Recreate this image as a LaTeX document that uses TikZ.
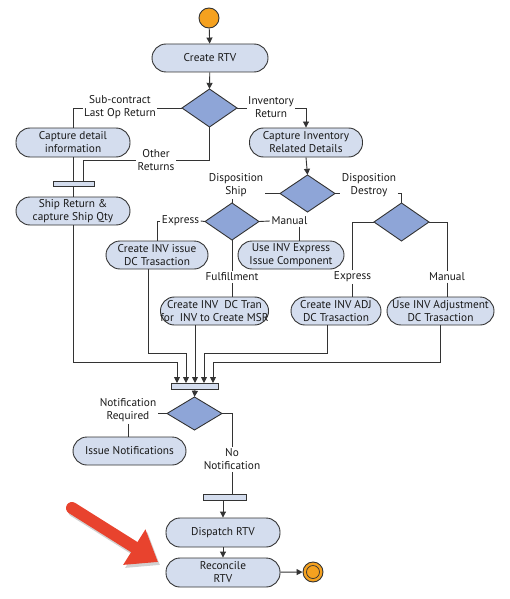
\documentclass[tikz,border=0pt]{standalone}
\usepackage{fontspec}
\setmainfont{PT Sans}
\usetikzlibrary{arrows.meta,calc}
\definecolor{boxfill}{HTML}{D4DDEE}
\definecolor{diafill}{HTML}{8EA5D7}
\definecolor{edge}{HTML}{333333}
\definecolor{startor}{HTML}{F5A11F}
\definecolor{redarr}{HTML}{E8432E}
\tikzset{
  every node/.style={font=\fontsize{11.3}{13}\selectfont, text=black!90},
  act/.style={draw=edge, fill=boxfill, line width=0.9pt, rounded corners=14pt, align=center, inner sep=0pt},
  dia/.style={draw=edge, fill=diafill, line width=0.9pt, inner sep=0pt},
  barbox/.style={draw=edge, fill=boxfill, line width=0.9pt, inner sep=0pt},
  lbl/.style={align=center, inner sep=1.5pt},
  conn/.style={draw=edge, line width=0.9pt},
  arr/.style={conn, -{Triangle[length=6pt,width=6pt]}},
}
\begin{document}
\begin{tikzpicture}[x=1pt,y=-1pt]
\useasboundingbox (0,0) rectangle (510,599);
% start
\node[circle, draw=edge, fill=startor, line width=0.9pt, minimum size=20pt, inner sep=0pt] (start) at (209,18) {};
\node[act, minimum width=116pt, minimum height=28pt] (rtv) at (210,58) {Create RTV};
% diamonds
\coordinate (c1) at (209.5,108);
\coordinate (c2) at (307.5,193.5);
\coordinate (c3) at (232,221.5);
\coordinate (c4) at (401.5,222);
\coordinate (c5) at (194.5,413.5);
\path[dia] (182,108) -- (209.5,89) -- (237,108) -- (209.5,127) -- cycle;
\node[inner sep=0pt, minimum width=55pt, minimum height=38pt] (d1) at (c1) {};
\path[dia] (280,193.5) -- (307.5,175) -- (335,193.5) -- (307.5,212) -- cycle;
\node[inner sep=0pt, minimum width=55pt, minimum height=37pt] (d2) at (c2) {};
\path[dia] (205,221.5) -- (232,203) -- (259,221.5) -- (232,240) -- cycle;
\node[inner sep=0pt, minimum width=54pt, minimum height=37pt] (d3) at (c3) {};
\path[dia] (374,222) -- (401.5,203) -- (429,222) -- (401.5,241) -- cycle;
\node[inner sep=0pt, minimum width=55pt, minimum height=38pt] (d4) at (c4) {};
\path[dia] (167,413.5) -- (194.5,397) -- (222,413.5) -- (194.5,430) -- cycle;
\node[inner sep=0pt, minimum width=55pt, minimum height=33pt] (d5) at (c5) {};
% activities
\node[act, minimum width=114pt, minimum height=29pt] (cdi) at (73,142.5) {Capture detail\\information};
\node[act, minimum width=113pt, minimum height=29pt] (cir) at (306,142.5) {Capture Inventory\\Related Details};
\node[barbox, minimum width=41pt, minimum height=5pt] (bar1) at (73.5,183.5) {};
\node[act, minimum width=114pt, minimum height=28pt] (ship) at (73,211) {Ship Return \&\\capture Ship Qty};
\node[act, minimum width=102pt, minimum height=28pt] (inviss) at (157,255) {Create INV issue\\DC Trasaction};
\node[act, minimum width=106pt, minimum height=28pt] (useexp) at (291,255) {Use INV Express\\Issue Component};
\node[act, minimum width=107pt, minimum height=28pt] (dctran) at (214.5,311) {Create INV\ \ DC Tran\\for\ \ INV to Create MSR};
\node[act, minimum width=90pt, minimum height=28pt] (adj) at (336,311) {Create INV ADJ\\DC Trasaction};
\node[act, minimum width=107pt, minimum height=28pt] (useadj) at (440.5,311) {Use INV Adjustment\\DC Trasaction};
\node[barbox, minimum width=47pt, minimum height=6pt] (bar2) at (195,386) {};
\node[act, minimum width=113pt, minimum height=28pt] (issue) at (129.5,451) {Issue Notifications};
\node[barbox, minimum width=43pt, minimum height=6pt] (bar3) at (224.5,497) {};
\node[act, minimum width=114pt, minimum height=29pt] (dispatch) at (223,532.5) {Dispatch RTV};
\node[act, minimum width=114pt, minimum height=29pt] (reconcile) at (223,572.5) {Reconcile\\RTV};
\node[circle, draw=edge, fill=startor, line width=0.9pt, minimum size=20pt, inner sep=0pt] (endo) at (313,572) {};
\node[circle, draw=edge, fill=startor, line width=0.7pt, minimum size=13pt, inner sep=0pt] (endi) at (313,572) {};
% labels
\node[lbl] (lsub) at (120,107.5) {Sub-contract\\Last Op Return};
\node[lbl] (linv) at (271,107.5) {Inventory\\Return};
\node[lbl] (loth) at (156,160) {Other\\Returns};
\node[lbl] (ldship) at (236,185.5) {Disposition\\Ship};
\node[lbl] (lddes) at (369,185.5) {Disposition\\Destroy};
\node[lbl] (lexp1) at (180.5,221) {Express};
\node[lbl] (lman1) at (289.5,221) {Manual};
\node[lbl] (lful) at (232,277) {Fulfillment};
\node[lbl] (lexp2) at (352.5,277) {Express};
\node[lbl] (lman2) at (447,277) {Manual};
\node[lbl] (lnreq) at (128,410.5) {Notification\\Required};
\node[lbl] (lnono) at (232,459.5) {No\\Notification};
% helper coordinates
\coordinate (b1in) at (83,181);
\coordinate (m1x) at (299,0);
\coordinate (x148) at (148,0);
\coordinate (x327) at (327,0);
\coordinate (r1) at (0,353);
\coordinate (r2) at (0,362);
\coordinate (j1) at (177,383);
\coordinate (j2) at (186,383);
\coordinate (j3) at (195,383);
\coordinate (j4) at (204,383);
\coordinate (j5) at (213,383);
% connectors
\draw[arr] (start) -- (rtv);
\draw[arr] (rtv) -- (d1.north);
\draw[conn] (d1.west) -- (d1.west -| lsub.east);
\draw[conn] (d1.west -| lsub.west) -| (cdi.north);
\draw[conn] (d1.east) -- (d1.east -| linv.west);
\draw[arr] (d1.east -| linv.east) -| (cir.north);
\draw[conn] (d1.south) |- (loth.east);
\draw[conn] (loth.west) -| (b1in);
\draw[conn] (cdi.south) -- (cdi.south |- bar1.north);
\draw[conn] (bar1.south -| ship.north) -- (ship.north);
\draw[arr] (cir.south) -- (d2.north);
\draw[conn] (d2.west) -- (d2.west -| ldship.east);
\draw[conn] (ldship.south -| d3.north) -- (d3.north);
\draw[conn] (d2.east) -- (d2.east -| lddes.west);
\draw[conn] (d2.east -| lddes.east) -| (d4.north);
\draw[conn] (d3.west) -- (lexp1.east);
\draw[conn] (lexp1.west) -| (inviss.north);
\draw[conn] (d3.east) -- (lman1.west);
\draw[conn] (lman1.south -| m1x) -- (useexp.north -| m1x);
\draw[conn] (d3.south) -- (lful.north);
\draw[conn] (lful.south) -- (dctran.north -| lful.south);
\draw[conn] (d4.west) -| (lexp2.north);
\draw[conn] (lexp2.south) -- (adj.north -| lexp2.south);
\draw[conn] (d4.east) -| (lman2.north);
\draw[conn] (lman2.south) -- (useadj.north -| lman2.south);
\draw[arr] (ship.south) -- (ship.south |- r2) -| (j1);
\draw[arr] (inviss.south -| x148) -- (x148 |- r1) -| (j2);
\draw[arr] (dctran.south -| j3) -- (j3);
\draw[arr] (adj.south -| x327) -- (x327 |- r1) -| (j4);
\draw[arr] (useadj.south) -- (useadj.south |- r2) -| (j5);
\draw[arr] (bar2.south) -- (d5.north);
\draw[conn] (d5.west) -- (d5.west -| lnreq.east);
\draw[conn] (lnreq.south) -- (issue.north -| lnreq.south);
\draw[conn] (d5.east) -| (lnono.north);
\draw[conn] (lnono.south) -- (bar3.north -| lnono.south);
\draw[arr] (bar3.south -| dispatch.north) -- (dispatch.north);
\draw[arr] (dispatch) -- (reconcile);
\draw[arr] (reconcile) -- (endo);
% red pointer arrow
\coordinate (ra) at (72,508);
\coordinate (rb) at (158,562);
\draw[line width=12pt, black, opacity=0.18, line cap=round, -{Triangle[length=28pt,width=40pt]}] ($(ra)+(2,3)$) -- ($(rb)+(2,3)$);
\draw[line width=12pt, redarr, line cap=round, -{Triangle[length=28pt,width=40pt]}] (ra) -- (rb);
\end{tikzpicture}
\end{document}
